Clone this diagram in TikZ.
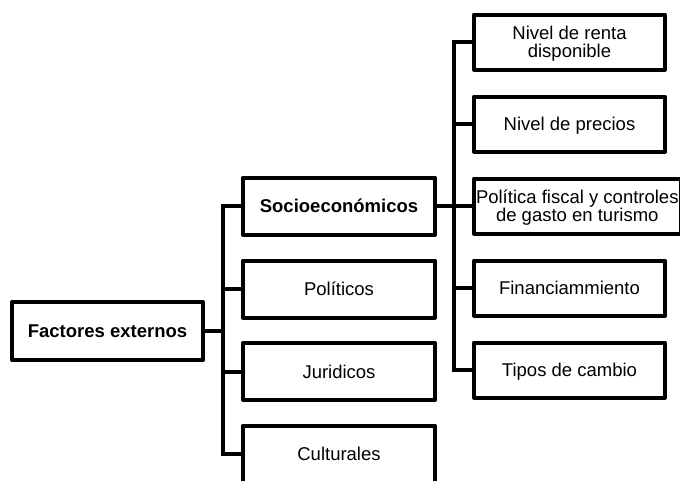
\documentclass[tikz,border=0pt]{standalone}
\usepackage{fontspec}
\setmainfont{Liberation Sans}
\begin{document}
\begin{tikzpicture}[x=1pt,y=-1pt,
  box/.style={draw, line width=4pt, line join=round, rectangle, inner sep=0pt, outer sep=0pt,
    align=center, font=\fontsize{18.5}{18}\selectfont, text height=13.2pt, text depth=0pt},
  twoline/.style={text height=31.2pt, text depth=0pt},
  midbox/.style={box, minimum width=192pt, minimum height=57pt},
  rightbox/.style={box, minimum width=191pt, minimum height=55pt},
  conn/.style={line width=4pt}
]
\useasboundingbox (0,0) rectangle (680,480);
\clip (0,0) rectangle (680,480);

\node[box, minimum width=191pt, minimum height=58pt, font=\fontsize{18.5}{18}\selectfont\bfseries] (fe) at (107.5,331) {Factores externos};

\node[midbox, font=\fontsize{18.5}{18}\selectfont\bfseries] (soc) at (339,206) {Socioeconómicos};
\node[midbox] (pol) at (339,289) {Políticos};
\node[midbox] (jur) at (339,371.5) {Juridicos};
\node[midbox] (cul) at (339,454) {Culturales};

\node[rightbox, twoline] (renta) at (569.5,42) {Nivel de renta\\disponible};
\node[rightbox] (prec) at (569.5,124) {Nivel de precios};
\node[rightbox, twoline, anchor=west, inner xsep=2pt] (fisc) at (474,206) {Política fiscal y controles\\de gasto en turismo};
\node[rightbox] (fin) at (569.5,288) {Financiammiento};
\node[rightbox] (tip) at (569.5,370) {Tipos de cambio};

% left tree
\draw[conn] (fe.east) -- ++(20,0);
\draw[conn] (soc.west) -- ++(-20,0) |- (cul.west);
\draw[conn] (pol.west) -- ++(-20,0);
\draw[conn] (jur.west) -- ++(-20,0);

% right tree
\draw[conn] (soc.east) -- (fisc.west);
\draw[conn] (renta.west) -- ++(-20,0) |- (tip.west);
\draw[conn] (prec.west) -- ++(-20,0);
\draw[conn] (fin.west) -- ++(-20,0);
\end{tikzpicture}
\end{document}
